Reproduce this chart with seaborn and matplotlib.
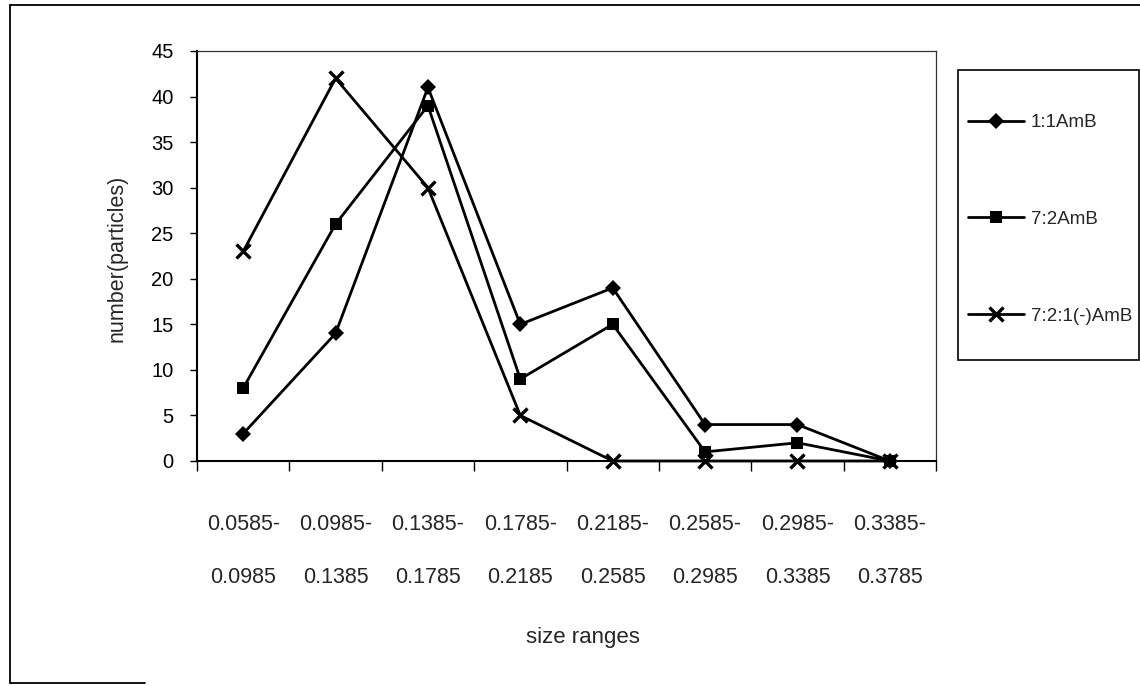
import numpy as np
import pandas as pd
import seaborn as sns
import matplotlib
matplotlib.use("Agg")
import matplotlib.pyplot as plt
from matplotlib.lines import Line2D
from matplotlib.patches import Rectangle

# Particle counts per size range for each formulation
range_low = ["0.0585-", "0.0985-", "0.1385-", "0.1785-", "0.2185-", "0.2585-", "0.2985-", "0.3385-"]
range_high = ["0.0985", "0.1385", "0.1785", "0.2185", "0.2585", "0.2985", "0.3385", "0.3785"]
series_names = ["1:1AmB", "7:2AmB", "7:2:1(-)AmB"]
counts_11 = [3, 14, 41, 15, 19, 4, 4, 0]
counts_72 = [8, 26, 39, 9, 15, 1, 2, 0]
counts_721 = [23, 42, 30, 5, 0, 0, 0, 0]
y_ticks = [0, 5, 10, 15, 20, 25, 30, 35, 40, 45]

sns.set_theme(style="white")
plt.rcParams["font.family"] = ["Liberation Sans", "DejaVu Sans"]

W, H = 1140, 686
fig = plt.figure(figsize=(W / 100, H / 100), dpi=100)
fig.patch.set_facecolor("white")


def fx(px):
    return px / W


def fy(py):
    return 1 - py / H


ax = fig.add_axes([fx(197), fy(461), fx(936) - fx(197), fy(51) - fy(461)])

df = pd.DataFrame({
    "pos": list(range(len(range_low))) * 3,
    "count": counts_11 + counts_72 + counts_721,
    "series": [n for n in series_names for _ in range_low],
})

styles = {
    "1:1AmB": dict(marker="D", ms=8.5, mew=0),
    "7:2AmB": dict(marker="s", ms=9, mew=0),
    "7:2:1(-)AmB": dict(marker="x", ms=9.5, mew=2.4),
}
for name in series_names:
    sub = df[df["series"] == name]
    sns.lineplot(data=sub, x="pos", y="count", ax=ax, color="black", lw=2,
                 label=name, legend=False, markeredgecolor="black", clip_on=False,
                 zorder=3, **styles[name])

ax.set_xlim(-0.5, len(range_low) - 0.5)
ax.set_ylim(0, 45)
ax.set_yticks(y_ticks)
ax.set_yticklabels([str(v) for v in y_ticks], fontsize=14.5)
ax.set_xticks(np.arange(-0.5, len(range_low), 1.0))
ax.set_xticklabels([])
ax.tick_params(axis="y", direction="out", length=5, width=1, pad=12, colors="black",
               left=True)
ax.tick_params(axis="x", direction="out", length=7, width=1, colors="black", bottom=True)
ax.set_xlabel("")
ax.set_ylabel("")

for side in ["left", "bottom"]:
    ax.spines[side].set_color("black")
    ax.spines[side].set_linewidth(1.5)
for side in ["top", "right"]:
    ax.spines[side].set_visible(True)
    ax.spines[side].set_color("#333333")
    ax.spines[side].set_linewidth(0.9)

# two-line category labels
xt = ax.get_xaxis_transform()
for i, (lo, hi) in enumerate(zip(range_low, range_high)):
    ax.text(i, -0.156, lo, transform=xt, ha="center", va="center", fontsize=15.5)
    ax.text(i, -0.285, hi, transform=xt, ha="center", va="center", fontsize=15.5)

fig.text(fx(583), fy(637), "size ranges", ha="center", va="center", fontsize=16)
fig.text(fx(117), fy(258), "number(particles)", ha="center", va="center",
         rotation=90, fontsize=15.5)

# legend with its own box
handles, labels = ax.get_legend_handles_labels()
fig.add_artist(Rectangle((fx(958), fy(360)), fx(1139) - fx(958), fy(70) - fy(360),
                         transform=fig.transFigure, fill=False, ec="black", lw=1.2))
leg = fig.legend(handles, labels, loc="upper left",
                 bbox_to_anchor=(fx(968), fy(114)), frameon=False,
                 fontsize=13.5, labelspacing=4.25, handlelength=3.0,
                 handletextpad=0.35, borderpad=0, borderaxespad=0)

# outer chart frame
frame_kw = dict(transform=fig.transFigure, color="black", lw=1.3)
fig.add_artist(Line2D([fx(10), fx(10)], [fy(5), fy(683)], **frame_kw))
fig.add_artist(Line2D([fx(10), fx(1140)], [fy(5), fy(5)], **frame_kw))
fig.add_artist(Line2D([fx(10), fx(145)], [fy(683), fy(683)], **frame_kw))

fig.savefig("out.png", dpi=100)
